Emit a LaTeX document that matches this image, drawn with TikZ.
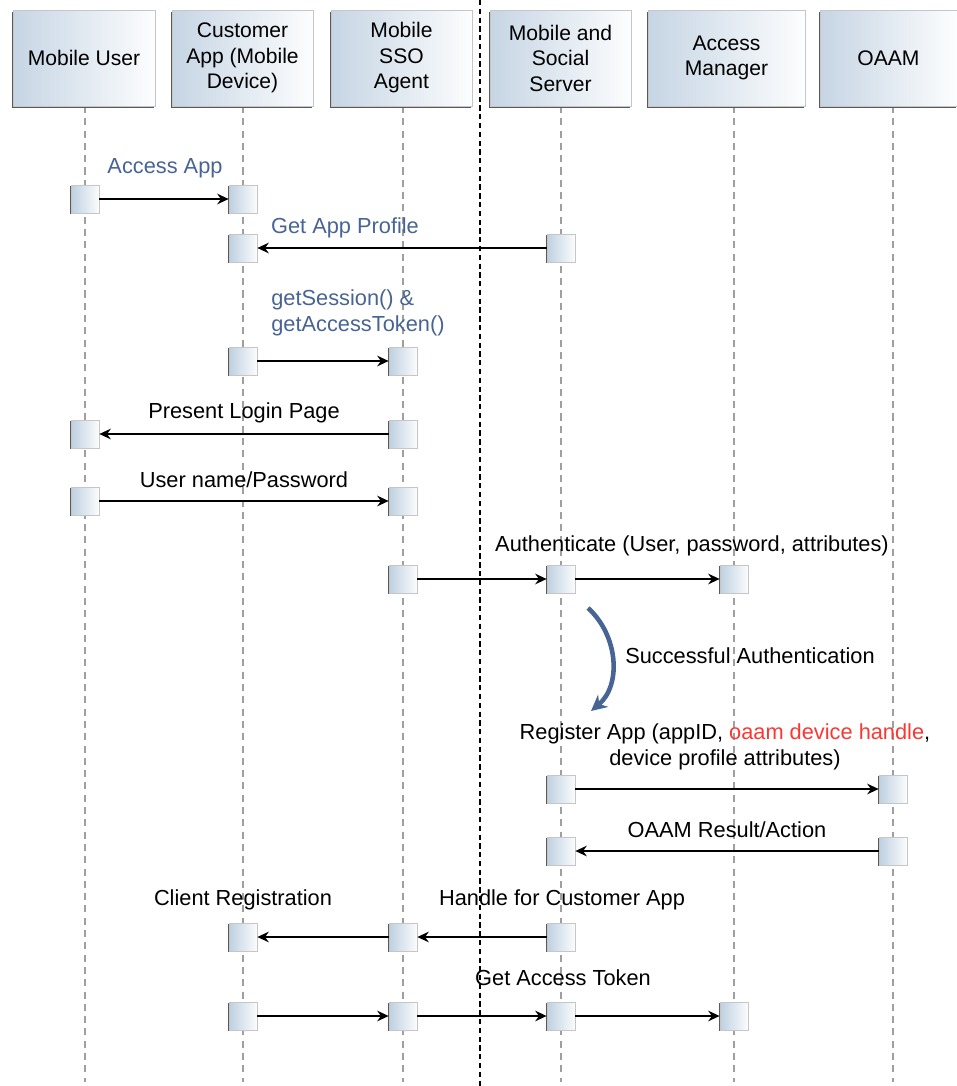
\documentclass[tikz,border=0pt]{standalone}
\usepackage{fontspec}
\setmainfont{Liberation Sans}
\usetikzlibrary{arrows.meta,positioning,shadows}

\definecolor{msgblue}{RGB}{72,100,148}
\definecolor{hlred}{RGB}{250,55,50}
\definecolor{hdrblue}{RGB}{198,213,228}
\definecolor{actblue}{RGB}{190,208,225}

\begin{document}
\begin{tikzpicture}[x=0.02cm, y=-0.02cm,
  actor/.style={draw=gray!45, left color=hdrblue, right color=white!96!hdrblue,
    minimum height=1.92cm, align=center, font=\fontsize{12}{14.5}\selectfont,
    drop shadow={shadow xshift=-0.7pt, shadow yshift=-0.9pt, fill=gray!70!black, opacity=1}},
  act/.style={draw=gray!45, left color=actblue, right color=white!95!actblue,
    minimum size=0.56cm, inner sep=0pt,
    drop shadow={shadow xshift=-0.6pt, shadow yshift=-0.8pt, fill=gray!70!black, opacity=1}},
  lifeline/.style={gray!75, line width=0.6pt, dash pattern=on 4pt off 3pt},
  msg/.style={-{Stealth[length=6.5pt, width=6pt]}, line width=1.1pt},
  lbl/.style={font=\fontsize{12.4}{14.8}\selectfont, align=center, inner sep=0pt},
  bluelbl/.style={lbl, text=msgblue}]
\useasboundingbox (0,0) rectangle (957,1086);

% Lifelines
\foreach \x in {85,243,403,561,734,893}
  \draw[lifeline] (\x,106) -- (\x,1082);
% Device / server separator
\draw[line width=0.8pt, dash pattern=on 3pt off 2pt] (480,0) -- (480,1086);

% Participants
\node[actor, minimum width=2.84cm] (hUser)   at (84,58)    {Mobile User};
\node[actor, minimum width=2.82cm] (hApp)    at (242.5,58) {Customer\\App (Mobile\\Device)};
\node[actor, minimum width=2.82cm] (hAgent)  at (401.5,58) {Mobile\\SSO\\Agent};
\node[actor, minimum width=2.82cm] (hServer) at (560.5,58) {Mobile and\\Social\\Server};
\node[actor, minimum width=3.14cm] (hAM)     at (726.5,58) {Access\\Manager};
\node[actor, minimum width=2.74cm] (hOAAM)   at (888.5,58) {OAAM};

% Access App
\node[act] (user1) at (85,199) {};
\node[act] (app1)  at (243,199) {};
\draw[msg] (user1) -- (app1);
\node[bluelbl] (tAccess) at (165,168) {Access App};

% Get App Profile
\node[act] (app2)    at (243,248) {};
\node[act] (server2) at (561,248) {};
\draw[msg] (server2) -- (app2);
\node[bluelbl] (tProfile) at (345,228) {Get App Profile};

% getSession / getAccessToken
\node[act] (app3)   at (243,361) {};
\node[act] (agent3) at (403,361) {};
\draw[msg] (app3) -- (agent3);
\node[bluelbl, align=left, anchor=west] (tSession) at (271,313) {getSession() \&\\getAccessToken()};

% Present Login Page
\node[act] (user4)  at (85,434) {};
\node[act] (agent4) at (403,434) {};
\draw[msg] (agent4) -- (user4);
\node[lbl] (tLogin) at (244,413) {Present Login Page};

% User name/Password
\node[act] (user5)  at (85,501) {};
\node[act] (agent5) at (403,501) {};
\draw[msg] (user5) -- (agent5);
\node[lbl] (tCred) at (244,480) {User name/Password};

% Authenticate
\node[act] (agent6)  at (403,579) {};
\node[act] (server6) at (561,579) {};
\node[act] (am6)     at (734,579) {};
\draw[msg] (agent6) -- (server6);
\draw[msg] (server6) -- (am6);
\node[lbl] (tAuth) at (692,546) {Authenticate (User, password, attributes)};

% Successful Authentication
\coordinate (okStart) at (588,608);
\coordinate (okEnd)   at (591,711);
\draw[msgblue, line width=2.6pt, -{Stealth[length=9pt, width=9pt]}]
  (okStart) .. controls (618,635) and (622,685) .. (okEnd);
\node[lbl] (tOk) at (750,656) {Successful Authentication};

% Register App
\node[act] (server8) at (561,789) {};
\node[act] (oaam8)   at (893,789) {};
\draw[msg] (server8) -- (oaam8);
\node[lbl] (tRegister) at (725,747) {Register App (appID, \textcolor{hlred}{oaam device handle},\\device profile attributes)};

% OAAM Result/Action
\node[act] (server9) at (561,851) {};
\node[act] (oaam9)   at (893,851) {};
\draw[msg] (oaam9) -- (server9);
\node[lbl] (tResult) at (727,830) {OAAM Result/Action};

% Handle / Client Registration
\node[act] (app10)    at (243,937) {};
\node[act] (agent10)  at (403,937) {};
\node[act] (server10) at (561,937) {};
\draw[msg] (server10) -- (agent10);
\draw[msg] (agent10) -- (app10);
\node[lbl] (tClient) at (243,900) {Client Registration};
\node[lbl] (tHandle) at (562,900) {Handle for Customer App};

% Get Access Token
\node[act] (app11)    at (243,1016) {};
\node[act] (agent11)  at (403,1016) {};
\node[act] (server11) at (561,1016) {};
\node[act] (am11)     at (734,1016) {};
\draw[msg] (app11) -- (agent11);
\draw[msg] (agent11) -- (server11);
\draw[msg] (server11) -- (am11);
\node[lbl] (tToken) at (563,978) {Get Access Token};
\end{tikzpicture}
\end{document}
